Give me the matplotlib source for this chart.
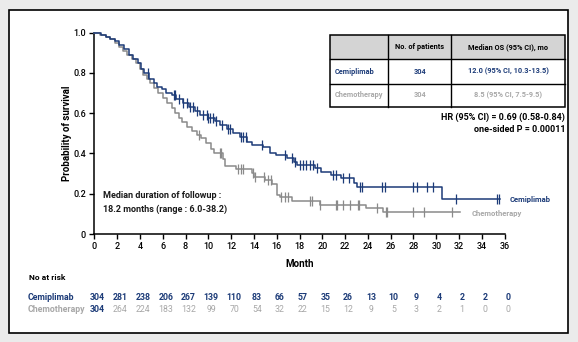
import matplotlib
matplotlib.use("Agg")
import numpy as np
import matplotlib.pyplot as plt
from matplotlib.patches import Rectangle
from matplotlib.lines import Line2D

W, H = 578, 342
NAVY = "#1c3b78"
GRAY = "#8a8a8a"
LIGHT = "#a8a8a8"

# Kaplan-Meier step points (month, survival probability)
cemi_t = [0, 0.6, 1.0, 1.4, 1.8, 2.2, 2.6, 3.0, 3.4, 3.8, 4.1, 4.4, 4.8, 5.2, 5.5,
          5.9, 6.3, 6.8, 7.2, 7.8, 8.3, 8.8, 9.3, 10.0, 10.6, 11.0, 11.6, 12.2,
          12.8, 13.4, 13.8, 14.8, 15.4, 15.9, 16.9, 17.5, 17.8, 19.4, 19.9, 20.8,
          21.6, 22.8, 23.0, 30.5]
cemi_s = [1.0, 0.99, 0.98, 0.97, 0.96, 0.94, 0.92, 0.89, 0.87, 0.85, 0.82, 0.80,
          0.77, 0.75, 0.73, 0.72, 0.70, 0.69, 0.67, 0.65, 0.63, 0.61, 0.59, 0.575,
          0.56, 0.54, 0.52, 0.50, 0.48, 0.455, 0.44, 0.43, 0.40, 0.39, 0.38, 0.36,
          0.345, 0.33, 0.31, 0.295, 0.28, 0.255, 0.235, 0.172]
cemi_end = 35.6
cemi_censor = [4.7, 7.0, 7.1, 7.4, 7.8, 8.1, 8.4, 8.7, 9.0, 9.56, 9.9, 10.0, 10.15,
               10.44, 10.7, 11.17, 11.75, 11.9, 12.9, 13.0, 13.3, 14.7, 16.7, 17.3,
               17.6, 18.0, 18.3, 18.6, 18.9, 19.2, 19.5, 20.9, 21.2, 21.8, 22.3,
               23.3, 23.5, 25.2, 25.5, 28.0, 28.3, 29.2, 29.7, 31.7, 35.3, 35.5]

chemo_t = [0, 0.5, 1.0, 1.4, 1.8, 2.2, 2.5, 2.9, 3.3, 3.7, 4.0, 4.3, 4.6, 4.9, 5.2,
           5.6, 6.0, 6.4, 6.8, 7.1, 7.4, 7.7, 8.1, 8.6, 9.0, 9.4, 9.8, 10.2, 10.5,
           11.3, 11.5, 12.4, 13.8, 14.0, 15.0, 15.6, 16.0, 16.3, 17.3, 19.8, 23.8,
           25.3]
chemo_s = [1.0, 0.99, 0.98, 0.97, 0.95, 0.93, 0.91, 0.89, 0.87, 0.85, 0.82, 0.79,
           0.77, 0.75, 0.725, 0.70, 0.675, 0.65, 0.625, 0.60, 0.575, 0.555, 0.53,
           0.51, 0.49, 0.475, 0.45, 0.42, 0.40, 0.375, 0.34, 0.325, 0.305, 0.285,
           0.27, 0.25, 0.195, 0.185, 0.165, 0.145, 0.128, 0.11]
chemo_end = 32.1
chemo_censor = [9.2, 11.0, 11.1, 12.6, 12.9, 13.0, 13.9, 14.1, 14.9, 15.2, 15.5,
                16.4, 16.7, 17.0, 18.9, 19.1, 19.8, 21.2, 21.3, 21.8, 22.4, 23.1,
                23.2, 24.8, 25.6, 25.7, 28.0, 28.9, 31.4]

risk_months = list(range(0, 37, 2))
risk_cemi = [304, 281, 238, 206, 267, 139, 110, 83, 66, 57, 35, 26, 13, 10, 9, 4, 2, 2, 0]
risk_chemo = [304, 264, 224, 183, 132, 99, 70, 54, 32, 22, 15, 12, 9, 5, 3, 2, 1, 0, 0]

y_ticks = [0, 0.2, 0.4, 0.6, 0.8, 1.0]
y_ticklabels = ["0", "0.2", "0.4", "0.6", "0.8", "1.0"]

plt.rcParams['font.family'] = ['Roboto', 'DejaVu Sans']


def fx(x):
    return x / W


def fy(y):
    return 1 - y / H


fig = plt.figure(figsize=(W / 100, H / 100), dpi=100, facecolor='#ebebeb')
fig.add_artist(Rectangle((fx(9), fy(332.5)), fx(568) - fx(9), fy(10) - fy(332.5),
                         transform=fig.transFigure, facecolor='white',
                         edgecolor='black', lw=1.2, zorder=0))

ax = fig.add_axes([fx(94.3), fy(234), (504.7 - 94.3) / W, (234 - 32.7) / H])
ax.set_facecolor('none')


def surv_at(times, surv, t):
    i = np.searchsorted(times, t, side='right') - 1
    return surv[i]


for t, s, end, cens, col in [(chemo_t, chemo_s, chemo_end, chemo_censor, GRAY),
                             (cemi_t, cemi_s, cemi_end, cemi_censor, NAVY)]:
    ax.step(t + [end], s + [s[-1]], where='post', color=col, lw=1.1,
            clip_on=False, zorder=3)
    cy = [surv_at(t, s, c) for c in cens]
    ax.plot(cens, cy, ls='none', marker='|', ms=6.5, mew=0.9, color=col,
            clip_on=False, zorder=4)

ax.set_xlim(0, 36)
ax.set_ylim(0, 1.0)
ax.set_xticks(risk_months)
ax.set_yticks(y_ticks)
ax.set_yticklabels(y_ticklabels)
for sp in ['top', 'right']:
    ax.spines[sp].set_visible(False)
for sp in ['left', 'bottom']:
    ax.spines[sp].set_linewidth(1.1)
ax.tick_params(direction='out', length=3.5, width=1.0, labelsize=6.5, pad=2.5,
               colors='black')
for lab in ax.get_xticklabels() + ax.get_yticklabels():
    lab.set_fontweight('medium')

ax.text(36.4, 0.172, "Cemiplimab", color=NAVY, fontsize=5.5, fontweight='bold',
        va='center', ha='left', clip_on=False)
ax.text(33.1, 0.10, "Chemotherapy", color=LIGHT, fontsize=5.5, fontweight='bold',
        va='center', ha='left', clip_on=False)

fig.text(fx(300), fy(264), "Month", fontsize=7, fontweight='bold',
         ha='center', va='center')
fig.text(fx(67), fy(133), "Probability of survival", fontsize=7,
         fontweight='bold', rotation=90, ha='center', va='center')

fig.text(fx(103), fy(196), "Median duration of followup :", fontsize=6.5,
         fontweight='bold', color='#1a1a1a', ha='left', va='center')
fig.text(fx(103), fy(209), "18.2 months (range : 6.0-38.2)", fontsize=6.5,
         fontweight='bold', color='#1a1a1a', ha='left', va='center')

# Median OS table
tl, tr, tt, tb = 330, 565, 35, 107
rows = [35, 59.3, 84, 107]
cols = [330, 388.3, 451, 565]
fig.add_artist(Rectangle((fx(tl), fy(rows[1])), fx(tr) - fx(tl), fy(tt) - fy(rows[1]),
                         transform=fig.transFigure, facecolor='#d4d4d4',
                         edgecolor='none', zorder=1))
fig.add_artist(Rectangle((fx(tl), fy(tb)), fx(tr) - fx(tl), fy(tt) - fy(tb),
                         transform=fig.transFigure, facecolor='none',
                         edgecolor='black', lw=1.1, zorder=2))
for r in rows[1:3]:
    fig.add_artist(Line2D([fx(tl), fx(tr)], [fy(r), fy(r)], color='black',
                          lw=1.0, transform=fig.transFigure, zorder=2))
for c in cols[1:3]:
    fig.add_artist(Line2D([fx(c), fx(c)], [fy(tt), fy(tb)], color='black',
                          lw=1.0, transform=fig.transFigure, zorder=2))

table_rows = [
    ("", "No. of patients", "Median OS (95% CI), mo", 'black'),
    ("Cemiplimab", "304", "12.0 (95% CI, 10.3-13.5)", NAVY),
    ("Chemotherapy", "304", "8.5 (95% CI, 7.5-9.5)", LIGHT),
]
for i, (lab, n, med, col) in enumerate(table_rows):
    yc = (rows[i] + rows[i + 1]) / 2
    fig.text(fx(335), fy(yc), lab, fontsize=5.3, fontweight='bold', color=col,
             ha='left', va='center', zorder=3)
    fig.text(fx((cols[1] + cols[2]) / 2), fy(yc), n, fontsize=5.3,
             fontweight='bold', color=col, ha='center', va='center', zorder=3)
    fig.text(fx((cols[2] + cols[3]) / 2), fy(yc), med, fontsize=5.3,
             fontweight='bold', color=col, ha='center', va='center', zorder=3)

fig.text(fx(565), fy(117), "HR (95% CI) = 0.69 (0.58-0.84)", fontsize=6.5,
         fontweight='bold', ha='right', va='center')
fig.text(fx(565), fy(129), "one-sided P = 0.00011", fontsize=6.5,
         fontweight='bold', ha='right', va='center')

# Number at risk
fig.text(fx(29), fy(277), "No at risk", fontsize=6, fontweight='bold',
         ha='left', va='center')
fig.text(fx(28), fy(297), "Cemiplimab", fontsize=6.3, fontweight='bold',
         color=NAVY, ha='left', va='center')
fig.text(fx(28), fy(309), "Chemotherapy", fontsize=6.3, fontweight='bold',
         color=LIGHT, ha='left', va='center')
for i, (m, a, b) in enumerate(zip(risk_months, risk_cemi, risk_chemo)):
    xp = 94.3 + m * (504.7 - 94.3) / 36 + 3
    fig.text(fx(xp), fy(297), str(a), fontsize=6.3, fontweight='bold',
             color=NAVY, ha='center', va='center')
    fig.text(fx(xp), fy(309), str(b), fontsize=6.3,
             fontweight='bold' if i == 0 else 'normal',
             color=NAVY if i == 0 else LIGHT, ha='center', va='center')

fig.savefig("out.png", dpi=100, facecolor=fig.get_facecolor())
